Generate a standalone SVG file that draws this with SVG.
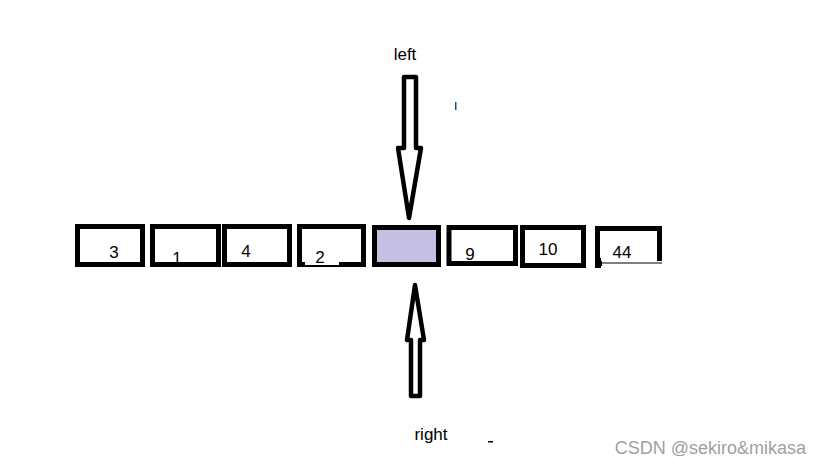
<svg xmlns="http://www.w3.org/2000/svg" width="818" height="465" viewBox="0 0 818 465">
<style>
.box{fill:#fff;stroke:#000;stroke-width:5}
.num{font-family:"Liberation Sans",Arial,sans-serif;font-size:17px;fill:#000;text-anchor:middle}
.arrow{fill:#fff;stroke:#000;stroke-width:4.5;stroke-linejoin:round}
.lbl{font-family:"Liberation Sans",Arial,sans-serif;font-size:17px;fill:#000;text-anchor:middle}
</style>
<rect width="818" height="465" fill="#fff"/>
<g id="n1"><rect class="box" x="77.5" y="226.5" width="65" height="38"/><text class="num" x="114" y="258">3</text></g>
<g id="n2"><rect class="box" x="152.5" y="226.5" width="66" height="38"/><text class="num" x="177" y="264">1</text></g>
<g id="n3"><rect class="box" x="224.5" y="226.5" width="65" height="38"/><text class="num" x="246" y="257">4</text></g>
<g id="n4"><rect class="box" x="299.5" y="226.5" width="64" height="38"/><rect x="305" y="260" width="34" height="5" fill="#fff"/><text class="num" x="320" y="263">2</text></g>
<g id="n5"><rect x="374.5" y="227.5" width="64" height="37" fill="#c5bfe3" stroke="#000" stroke-width="5"/></g>
<g id="n6"><rect class="box" x="449" y="227.5" width="66.5" height="36"/><text class="num" x="470" y="260">9</text></g>
<g id="n7"><rect class="box" x="522.5" y="227.5" width="61" height="38"/><text class="num" x="548" y="255">10</text></g>
<g id="n8"><rect class="box" x="597.5" y="228.5" width="62" height="35"/><rect x="602" y="261" width="62" height="5" fill="#fff"/><line x1="600" y1="263" x2="662" y2="263" stroke="#000" stroke-width="1.2"/><rect x="595" y="258" width="6" height="10" fill="#000"/><text class="num" x="622" y="258">44</text></g>
<g id="connectors">
<path class="arrow" d="M404,77 L416,77 L416,148 L421,148 L409,218 L398,148 L404,148 Z"/>
<path class="arrow" d="M415,285 L424,340 L420,340 L420,396 L411,396 L411,340 L407,340 Z"/>
</g>
<g id="labels">
<text class="lbl" x="405" y="60">left</text>
<text class="lbl" x="431" y="440">right</text>
<rect x="455" y="102" width="1.5" height="8" fill="#1f4e9a"/>
<rect x="488" y="441" width="5" height="1.5" fill="#000"/>
<text x="806" y="454" font-family="Liberation Sans,Arial,sans-serif" font-size="18" fill="#a0a0a0" text-anchor="end">CSDN @sekiro&amp;mikasa</text>
</g>
</svg>
